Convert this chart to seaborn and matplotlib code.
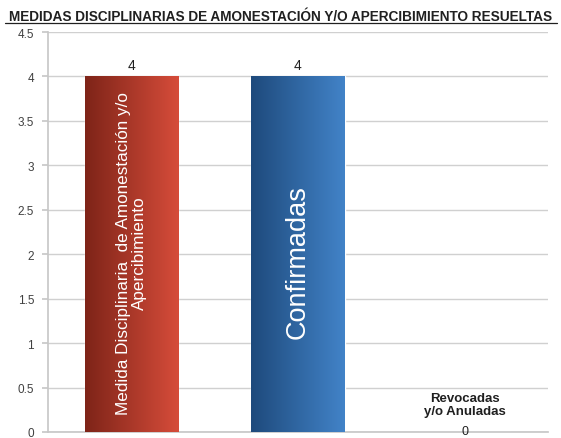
import matplotlib
matplotlib.use("Agg")
import matplotlib.pyplot as plt
import seaborn as sns
import numpy as np
import pandas as pd
from matplotlib.colors import LinearSegmentedColormap

categories = ["Medida Disciplinaria  de Amonestación y/o\nApercibimiento", "Confirmadas", "Revocadas\ny/o Anuladas"]
values = [4, 4, 0]
title = "MEDIDAS DISCIPLINARIAS DE AMONESTACIÓN Y/O APERCIBIMIENTO RESUELTAS"
yticks = [0, 0.5, 1, 1.5, 2, 2.5, 3, 3.5, 4, 4.5]
ytick_labels = ["0", "0.5", "1", "1.5", "2", "2.5", "3", "3.5", "4", "4.5"]

sns.set_theme(style="white")
plt.rcParams["font.family"] = ["Liberation Sans", "DejaVu Sans"]

df = pd.DataFrame({"cat": categories, "val": values})
fig = plt.figure(figsize=(5.61, 4.39), dpi=100)
ax = fig.add_axes([48/561, 6/439, 500/561, 400/439])

sns.barplot(data=df, x="cat", y="val", ax=ax, width=0.56,
            palette=["#B03A2E", "#2F64A0", "#888888"], hue="cat", legend=False,
            saturation=1, zorder=2)

ax.set_xlim(-0.5, 2.5)
ax.set_ylim(0, 4.5)
ax.set_yticks(yticks)
ax.set_yticklabels(ytick_labels, fontsize=8.5, color="#404040")
ax.set_xticks([])
ax.set_xlabel("")
ax.set_ylabel("")
ax.yaxis.grid(True, color="#D0D0D0", linewidth=1, zorder=0)
ax.set_axisbelow(True)
for s in ["top", "right"]:
    ax.spines[s].set_visible(False)
ax.spines["left"].set_color("#C8C8C8")
ax.spines["bottom"].set_color("#C8C8C8")
ax.tick_params(axis="y", length=4, color="#C8C8C8", pad=6, left=True)

# gradients
grads = [("#7E2418", "#D64C3A"), ("#1E4A7C", "#4283C8")]
for patch, (c0, c1) in zip(ax.patches[:2], grads):
    x0, y0 = patch.get_x(), patch.get_y()
    w, h = patch.get_width(), patch.get_height()
    cmap = LinearSegmentedColormap.from_list("g", [c0, c1])
    grad = np.linspace(0, 1, 256).reshape(1, -1)
    im = ax.imshow(grad, cmap=cmap, extent=[x0, x0 + w, y0, y0 + h],
                   aspect="auto", zorder=3, interpolation="bicubic")
    im.set_clip_path(patch)
ax.set_xlim(-0.5, 2.5)
ax.set_ylim(0, 4.5)

# value labels
for i, v in enumerate(values):
    if v > 0:
        ax.text(i, v + 0.05, str(v), ha="center", va="bottom", fontsize=10, color="#202020")
ax.annotate("0", xy=(2, 0), xycoords=("data", "figure fraction"), xytext=(0, 0.5),
            textcoords="offset points", ha="center", va="bottom", fontsize=9,
            color="#202020", annotation_clip=False)

# in-bar labels
ax.text(0, 2.02, categories[0], rotation=90, ha="center", va="center",
        fontsize=12.3, color="white", zorder=5, multialignment="center",
        linespacing=1.05)
ax.text(1, 1.92, categories[1], rotation=90, ha="center", va="center",
        fontsize=19.5, color="white", zorder=5)
ax.text(2, 0.31, categories[2], ha="center", va="center", fontsize=9.5,
        fontweight="bold", color="#202020", zorder=5, multialignment="center",
        linespacing=1.1)

fig.text(281/561, 1 - 17/439, title, ha="center", va="center", fontsize=9.85,
         fontweight="bold", color="#202020")
# underline
fig.add_artist(plt.Line2D([5/561, 557/561], [1 - 24/439, 1 - 24/439], color="#202020", linewidth=0.9))

fig.savefig("out.png", dpi=100)
